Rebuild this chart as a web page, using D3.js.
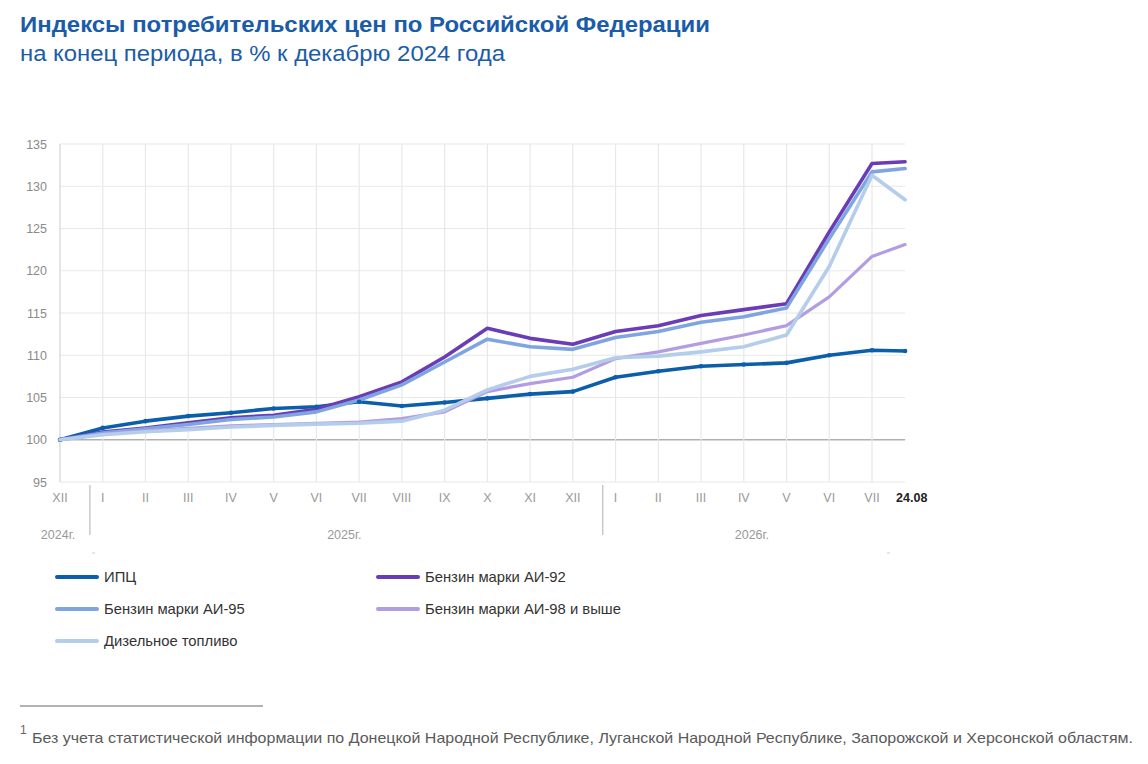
<!DOCTYPE html>
<html lang="ru">
<head>
<meta charset="utf-8">
<script src="https://cdn.jsdelivr.net/npm/d3@7"></script>
<style>
	html, body { margin: 0; padding: 0; background: #fff; }
	svg { display: block; font-family: Arial, 'Liberation Sans', sans-serif; }
</style>
</head>
<body>
<svg id="chart" width="1148" height="764"></svg>
<script>
const months = ['XII', 'I', 'II', 'III', 'IV', 'V', 'VI', 'VII', 'VIII', 'IX', 'X', 'XI', 'XII', 'I', 'II', 'III', 'IV', 'V', 'VI', 'VII', '24.08'];
// position in months from end of Dec 2024; last point is 24 August
const monthPos = [0, 1, 2, 3, 4, 5, 6, 7, 8, 9, 10, 11, 12, 13, 14, 15, 16, 17, 18, 19, 19 + 24 / 31];
const years = [
	{ label: '2024г.', from: 0, to: 0 },
	{ label: '2025г.', from: 1, to: 12 },
	{ label: '2026г.', from: 13, to: 20 },
];
const yTicks = [95, 100, 105, 110, 115, 120, 125, 130, 135];

const cpi = [100, 101.4, 102.2, 102.8, 103.2, 103.7, 103.9, 104.5, 104.0, 104.4, 104.9, 105.4, 105.7, 107.4, 108.1, 108.7, 108.9, 109.1, 110.0, 110.6, 110.5];
const ai92 = [100, 100.9, 101.4, 102.0, 102.6, 102.9, 103.6, 105.1, 106.85, 109.8, 113.2, 112.0, 111.3, 112.8, 113.5, 114.7, 115.4, 116.1, 124.6, 132.7, 132.9];
const ai95 = [100, 100.8, 101.3, 101.8, 102.4, 102.7, 103.3, 104.7, 106.5, 109.2, 111.9, 111.0, 110.7, 112.1, 112.8, 113.9, 114.55, 115.6, 123.8, 131.7, 132.1];
const ai98 = [100, 100.65, 101.05, 101.35, 101.65, 101.8, 101.95, 102.1, 102.5, 103.3, 105.7, 106.65, 107.4, 109.6, 110.4, 111.4, 112.4, 113.5, 116.9, 121.7, 123.1];
const diesel = [100, 100.6, 100.95, 101.2, 101.5, 101.7, 101.85, 101.95, 102.2, 103.5, 105.9, 107.5, 108.35, 109.7, 109.9, 110.4, 111.0, 112.4, 120.5, 131.3, 128.4];

const series = [
	{ name: 'ИПЦ', values: cpi, color: '#0b5ea9', width: 3.6, dots: true },
	{ name: 'Бензин марки АИ-92', values: ai92, color: '#6a3cb6', width: 3.6 },
	{ name: 'Бензин марки АИ-95', values: ai95, color: '#7fa5e1', width: 3.6 },
	{ name: 'Бензин марки АИ-98 и выше', values: ai98, color: '#b29de2', width: 3.2 },
	{ name: 'Дизельное топливо', values: diesel, color: '#b4cdeb', width: 3.6 },
];

const svg = d3.select('#chart');

const x = d3.scaleLinear()
	.domain([0, 19])
	.range([60, 872]);
const y = d3.scaleLinear()
	.domain([95, 135])
	.range([482, 144]);
const xEnd = x(monthPos[monthPos.length - 1]);

// titles
svg.append('text')
	.attr('x', 20)
	.attr('y', 32)
	.attr('textLength', 690)
	.attr('lengthAdjust', 'spacingAndGlyphs')
	.style('font-size', '22px')
	.style('font-weight', 'bold')
	.style('fill', '#1b5ca8')
	.text('Индексы потребительских цен по Российской Федерации');
svg.append('text')
	.attr('x', 20)
	.attr('y', 61)
	.attr('textLength', 485)
	.attr('lengthAdjust', 'spacingAndGlyphs')
	.style('font-size', '22px')
	.style('fill', '#1b5ca8')
	.text('на конец периода, в % к декабрю 2024 года');

// grid
const grid = svg.append('g').attr('class', 'grid');
grid.selectAll('line.h')
	.data(yTicks)
	.join('line')
	.attr('class', 'h')
	.attr('x1', x(0))
	.attr('x2', xEnd)
	.attr('y1', d => y(d))
	.attr('y2', d => y(d))
	.style('stroke', d => d === 100 ? '#b0b0b0' : '#e8e8e8')
	.style('stroke-width', d => d === 100 ? 1.4 : 1.2);
grid.selectAll('line.v')
	.data(monthPos.slice(0, -1))
	.join('line')
	.attr('class', 'v')
	.attr('x1', d => x(d))
	.attr('x2', d => x(d))
	.attr('y1', y(135))
	.attr('y2', y(95))
	.style('stroke', (d, i) => i === 0 ? '#d4d4d4' : '#e8e8e8')
	.style('stroke-width', 1.2);

// y labels
svg.append('g')
	.selectAll('text')
	.data(yTicks)
	.join('text')
	.attr('x', 47)
	.attr('y', d => y(d) + 4.5)
	.attr('text-anchor', 'end')
	.style('font-size', '12.5px')
	.style('fill', '#8a8a8a')
	.text(d => d);

// x labels
const last = months.length - 1;
svg.append('g')
	.selectAll('text')
	.data(months)
	.join('text')
	.attr('x', (d, i) => i === last ? xEnd - 9 : x(monthPos[i]))
	.attr('y', 502)
	.attr('text-anchor', (d, i) => i === last ? 'start' : 'middle')
	.style('font-size', '12.5px')
	.style('font-weight', (d, i) => i === last ? 'bold' : 'normal')
	.style('fill', (d, i) => i === last ? '#222' : '#999')
	.text(d => d);

// year separators and labels
const sepX = d => x(d.from - 0.3);
svg.append('g')
	.selectAll('line')
	.data(years.slice(1))
	.join('line')
	.attr('x1', sepX)
	.attr('x2', sepX)
	.attr('y1', 485)
	.attr('y2', 535)
	.style('stroke', '#bdbdbd')
	.style('stroke-width', 1.2);
svg.append('g')
	.selectAll('text')
	.data(years)
	.join('text')
	.attr('x', (d, i) => {
		if (i === 0) return x(0) - 2;
		const right = i < years.length - 1 ? sepX(years[i + 1]) : xEnd;
		return (sepX(d) + right) / 2 - 2;
	})
	.attr('y', 539)
	.attr('text-anchor', 'middle')
	.style('font-size', '12.5px')
	.style('fill', '#999')
	.text(d => d.label);
svg.append('g')
	.selectAll('line')
	.data([x(0.75), x(19.35)])
	.join('line')
	.attr('x1', d => d)
	.attr('x2', d => d + 3)
	.attr('y1', 553)
	.attr('y2', 553)
	.style('stroke', '#cfcfcf')
	.style('stroke-width', 1);

// lines
const line = d3.line()
	.x((d, i) => x(monthPos[i]))
	.y(d => y(d));

const lines = svg.append('g').attr('class', 'lines');
lines.selectAll('path')
	.data(series)
	.join('path')
	.attr('d', d => line(d.values))
	.style('fill', 'none')
	.style('stroke', d => d.color)
	.style('stroke-width', d => d.width)
	.style('stroke-linejoin', 'round')
	.style('stroke-linecap', 'round');
lines.selectAll('circle')
	.data(cpi.map((v, i) => [monthPos[i], v]))
	.join('circle')
	.attr('cx', d => x(d[0]))
	.attr('cy', d => y(d[1]))
	.attr('r', 2.3)
	.style('fill', series[0].color);
// diesel stays on top of the other fuels
lines.selectAll('path').filter((d, i) => i === series.length - 1).raise();

// legend
const legendPos = [[57, 577], [378, 577], [57, 609], [378, 609], [57, 641]];
const legend = svg.append('g')
	.selectAll('g')
	.data(series)
	.join('g')
	.attr('transform', (d, i) => `translate(${legendPos[i]})`);
legend.append('line')
	.attr('x1', 0)
	.attr('x2', 40)
	.style('stroke', d => d.color)
	.style('stroke-width', 4)
	.style('stroke-linecap', 'round');
legend.append('text')
	.attr('x', 47)
	.attr('y', 5)
	.style('font-size', '14.8px')
	.style('fill', '#333')
	.text(d => d.name);

// footnote
svg.append('line')
	.attr('x1', 20)
	.attr('x2', 263)
	.attr('y1', 706)
	.attr('y2', 706)
	.style('stroke', '#666')
	.style('stroke-width', 1);
svg.append('text')
	.attr('x', 20)
	.attr('y', 734)
	.style('font-size', '12px')
	.style('fill', '#666')
	.text('1');
svg.append('text')
	.attr('x', 32)
	.attr('y', 743)
	.attr('textLength', 1101)
	.attr('lengthAdjust', 'spacingAndGlyphs')
	.style('font-family', "'Liberation Sans Narrow', 'Arial Narrow', sans-serif")
	.style('font-size', '15px')
	.style('fill', '#5a5a5a')
	.text('Без учета статистической информации по Донецкой Народной Республике, Луганской Народной Республике, Запорожской и Херсонской областям.');
</script>
</body>
</html>
